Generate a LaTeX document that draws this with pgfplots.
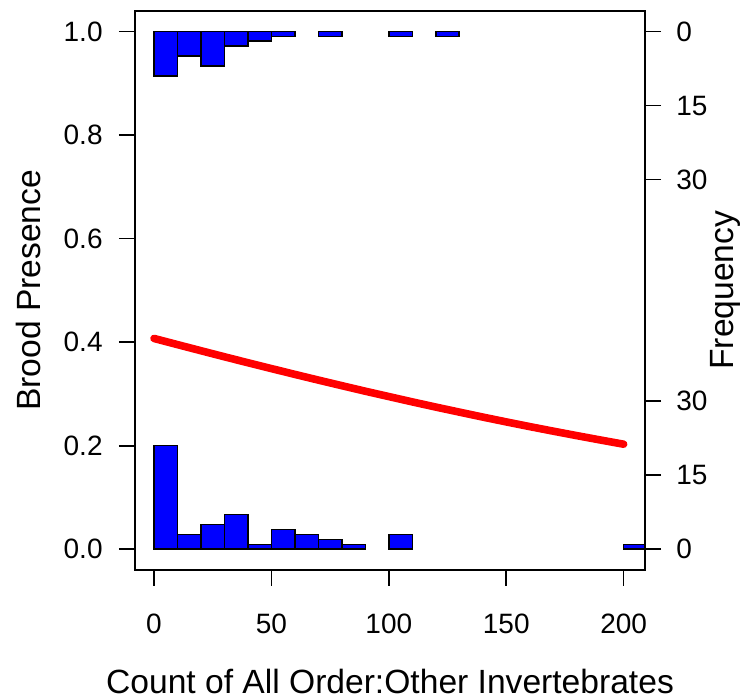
\documentclass[border=0pt]{standalone}
\usepackage{fontspec}
\setmainfont{Liberation Sans}
\usepackage{pgfplots}
\pgfplotsset{compat=1.18}

% shared geometry of the three overlaid axes
\pgfplotsset{
  hbase/.style={
    scale only axis, width=255pt, height=279.65pt,
    at={(0pt,0pt)}, anchor=south west,
    xmin=-8.1, xmax=209.1,
    tick align=outside, major tick length=8pt,
    every tick/.style={black, line width=0.8pt},
    /pgf/number format/assume math mode=true,
    ticklabel style={font=\fontsize{14}{16}\selectfont, inner sep=0pt},
    label style={font=\fontsize{16.8}{20}\selectfont},
  },
  hbar/.style={ybar, bar width=10, bar shift=0pt, fill=blue, draw=black, line width=0.8pt},
}

\begin{document}
\begin{tikzpicture}

% fitted probability
\begin{axis}[hbase,
    ymin=-0.04, ymax=1.04,
    xtick={0,50,100,150,200}, ytick={0,0.2,0.4,0.6,0.8,1},
    xtick pos=bottom, ytick pos=left,
    axis line style={line width=1pt},
    yticklabel style={anchor=east, xshift=-8pt,
        /pgf/number format/.cd, fixed, fixed zerofill, precision=1},
    xticklabel style={anchor=north, yshift=-14pt},
    xlabel={Count of All Order:Other Invertebrates},
    ylabel={Brood Presence},
    xlabel style={at={(axis description cs:0.5,-0.2217)}, anchor=base},
    ylabel style={at={(axis description cs:-0.2098,0.5)}, anchor=center},
]
\addplot[red, line width=3.8pt, line cap=round, line join=round] coordinates {
    (0,0.4071) (10,0.3952) (20,0.3834) (30,0.3717) (40,0.3602)
    (50,0.3489) (60,0.3377) (70,0.3267) (80,0.3159) (90,0.3052)
    (100,0.2949) (110,0.2846) (120,0.2746) (130,0.2649) (140,0.2553)
    (150,0.2460) (160,0.2369) (170,0.2281) (180,0.2195) (190,0.2111)
    (200,0.2029)
};
\end{axis}

% brood absent: counts per bin, standing on y = 0
\begin{axis}[hbase,
    ymin=-4.19, ymax=108.98,
    axis x line=none, axis y line*=right,
    axis line style={line width=1pt},
    ytick={0,15,30},
    yticklabel style={anchor=west, xshift=7.5pt},
    ylabel={Frequency},
    ylabel style={at={(axis description cs:1.1569,0.5)}, anchor=center},
]
\addplot[hbar] coordinates {
    (5,21) (15,3) (25,5) (35,7) (45,1) (55,4) (65,3) (75,2) (85,1)
    (105,3) (205,1)
};
\end{axis}

% brood present: counts per bin, hanging from y = 1
\begin{axis}[hbase,
    ymin=-4.19, ymax=108.98, y dir=reverse,
    axis x line=none, axis y line*=right,
    axis line style={line width=1pt},
    ytick={0,15,30},
    yticklabel style={anchor=west, xshift=7.5pt},
]
\addplot[hbar] coordinates {
    (5,9) (15,5) (25,7) (35,3) (45,2) (55,1) (75,1) (105,1) (125,1)
};
\end{axis}

\pgfresetboundingbox
\path (-67.5pt,-65pt) rectangle (305.5pt,285pt);
\end{tikzpicture}
\end{document}
